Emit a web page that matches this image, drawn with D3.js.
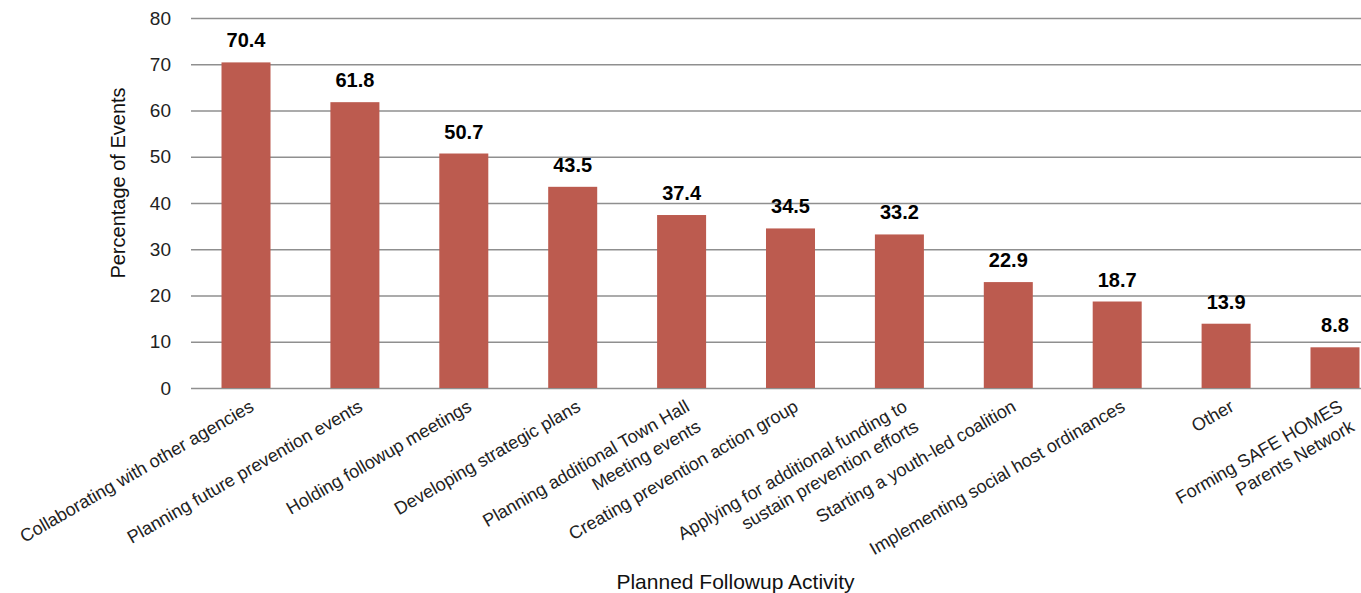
<!DOCTYPE html>
<html>
<head>
<meta charset="utf-8">
<script src="https://cdn.jsdelivr.net/npm/d3@7"></script>
<style>
  html, body { margin: 0; padding: 0; background: #fff; }
  svg { display: block; }
  text { font-family: "Liberation Sans", Arial, Helvetica, sans-serif; }
</style>
</head>
<body>
<svg id="chart" width="1361" height="593"></svg>
<script>
// Planned followup activities (label lines) and share of events (%)
const categories = [
  ["Collaborating with other agencies"],
  ["Planning future prevention events"],
  ["Holding followup meetings"],
  ["Developing strategic plans"],
  ["Planning additional Town Hall", "Meeting events"],
  ["Creating prevention action group"],
  ["Applying for additional funding to", "sustain prevention efforts"],
  ["Starting a youth-led coalition"],
  ["Implementing social host ordinances"],
  ["Other"],
  ["Forming SAFE HOMES", "Parents Network"]
];
const values = [70.4, 61.8, 50.7, 43.5, 37.4, 34.5, 33.2, 22.9, 18.7, 13.9, 8.8];
const yTicks = [0, 10, 20, 30, 40, 50, 60, 70, 80];

const W = 1361, H = 593;
const plotLeft = 191, plotRight = 1361;
const svg = d3.select("#chart");

const keys = categories.map(d => d.join(" "));

const x = d3.scaleBand()
  .domain(keys)
  .range([197, 1384])
  .paddingInner(0.55)
  .paddingOuter(0.225);

const y = d3.scaleLinear()
  .domain([0, 80])
  .range([388, 18]);

// gridlines + tick labels
const yAxis = d3.axisLeft(y)
  .tickValues(yTicks)
  .tickSizeInner(-(plotRight - plotLeft))
  .tickSizeOuter(0)
  .tickPadding(20);

const gy = svg.append("g")
  .attr("transform", `translate(${plotLeft},0)`)
  .call(yAxis);
gy.select(".domain").remove();
gy.selectAll(".tick line")
  .attr("stroke", "#8f8f8f")
  .attr("stroke-width", 1.5);
gy.selectAll(".tick text")
  .attr("fill", "#222")
  .style("font-size", "19px");

// bars
svg.append("g")
  .selectAll("rect")
  .data(values)
  .join("rect")
  .attr("x", (d, i) => x(keys[i]))
  .attr("y", d => y(d))
  .attr("width", x.bandwidth())
  .attr("height", d => y(0) - y(d))
  .attr("fill", "#bc5b4f");

// value labels
svg.append("g")
  .selectAll("text")
  .data(values)
  .join("text")
  .attr("x", (d, i) => x(keys[i]) + x.bandwidth() / 2)
  .attr("y", d => y(d) - 15)
  .attr("text-anchor", "middle")
  .attr("font-weight", "bold")
  .attr("fill", "#000")
  .style("font-size", "20px")
  .text(d => d.toFixed(1));

// rotated category labels
const catG = svg.append("g")
  .selectAll("text")
  .data(categories)
  .join("text")
  .attr("transform", (d, i) =>
    `translate(${x(keys[i]) + x.bandwidth() / 2 + 9},410) rotate(-30)`)
  .attr("text-anchor", "end")
  .attr("fill", "#222")
  .style("font-size", "18px");

catG.selectAll("tspan")
  .data(d => d)
  .join("tspan")
  .attr("x", 0)
  .attr("dy", (d, j) => j === 0 ? 0 : 23)
  .text(d => d);

// axis titles
svg.append("text")
  .attr("transform", "translate(125,183) rotate(-90)")
  .attr("text-anchor", "middle")
  .attr("fill", "#111")
  .style("font-size", "20px")
  .text("Percentage of Events");

svg.append("text")
  .attr("x", 735.5)
  .attr("y", 589)
  .attr("text-anchor", "middle")
  .attr("fill", "#111")
  .style("font-size", "21px")
  .text("Planned Followup Activity");
</script>
</body>
</html>
